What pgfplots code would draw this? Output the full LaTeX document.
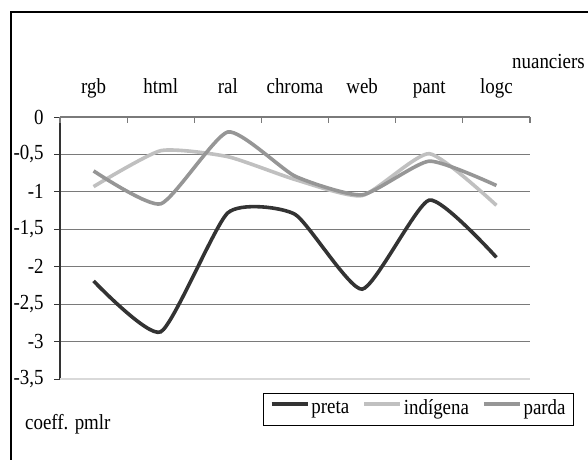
\documentclass[border=0pt]{standalone}
\usepackage{fontspec}
\setmainfont{Liberation Serif}[FakeStretch=0.88]
\usepackage{pgfplots}
\pgfplotsset{compat=1.18}
\definecolor{preta}{HTML}{333333}
\definecolor{indigena}{HTML}{C0C0C0}
\definecolor{parda}{HTML}{969696}
\definecolor{gridc}{HTML}{7A7A7A}

\begin{document}
\fontsize{21.5}{24}\selectfont
\begin{tikzpicture}
\useasboundingbox (0pt,0pt) rectangle (588pt,459pt);
% outer chart frame (right and bottom edges fall outside the page)
\draw[line width=1.1pt] (11pt,-10pt) -- (11pt,447pt) -- (600pt,447pt);
\node[anchor=base west, inner sep=0pt] at (512pt,391pt) {nuanciers};
\node[anchor=base west, inner sep=0pt] at (25pt,30pt) {coeff. pmlr};
\begin{axis}[
  at={(60pt,342pt)}, anchor=north west,
  scale only axis, width=470pt, height=262pt,
  xmin=-0.5, xmax=6.5, ymin=-3.5, ymax=0,
  axis x line*=top, axis y line*=left,
  x axis line style={gridc, line width=1.1pt, -},
  y axis line style={black!80, line width=1.1pt, -},
  xtick={0,...,6},
  xticklabels={rgb,html,ral,chroma,web,pant,logc},
  xtick style={draw=none},
  x tick label style={anchor=base, yshift=18pt},
  ytick={0,-0.5,-1,-1.5,-2,-2.5,-3,-3.5},
  yticklabels={0,{-0,5},-1,{-1,5},-2,{-2,5},-3,{-3,5}},
  y tick label style={xshift=-3pt},
  ytick style={black!80, line width=1pt},
  tick align=outside, major tick length=6pt,
  ymajorgrids, grid style={gridc, line width=1.2pt},
  clip=false,
  legend style={at={(1.0936,-0.1145)}, anchor=east, legend columns=3,
    draw=black, line width=0.8pt, inner xsep=6pt, inner ysep=5pt,
    /tikz/every even column/.append style={column sep=11pt}},
  legend image code/.code={\draw[#1, line width=3.6pt] (0pt,5pt) -- (36pt,5pt);},
  every axis plot/.append style={line width=3.6pt, smooth, tension=0.333, no markers},
]
% very light bottom gridline as in the original
\draw[black!15, line width=1.2pt] (axis cs:-0.5,-3.5) -- (axis cs:6.5,-3.5);
\pgfplotsinvokeforeach{-0.5,0.5,1.5,2.5,3.5,4.5,5.5,6.5}{
  \draw[gridc, line width=1.1pt] (axis cs:#1,0) -- ++(0pt,-6pt);
}
\addplot[preta] coordinates {(0,-2.19) (1,-2.87) (2,-1.28) (3,-1.30) (4,-2.30) (5,-1.11) (6,-1.875)};
\addplot[indigena] coordinates {(0,-0.93) (1,-0.45) (2,-0.53) (3,-0.835) (4,-1.05) (5,-0.49) (6,-1.18)};
\addplot[parda] coordinates {(0,-0.72) (1,-1.16) (2,-0.20) (3,-0.79) (4,-1.04) (5,-0.59) (6,-0.915)};
\legend{preta,indígena,parda}
\end{axis}
\end{tikzpicture}
\end{document}
